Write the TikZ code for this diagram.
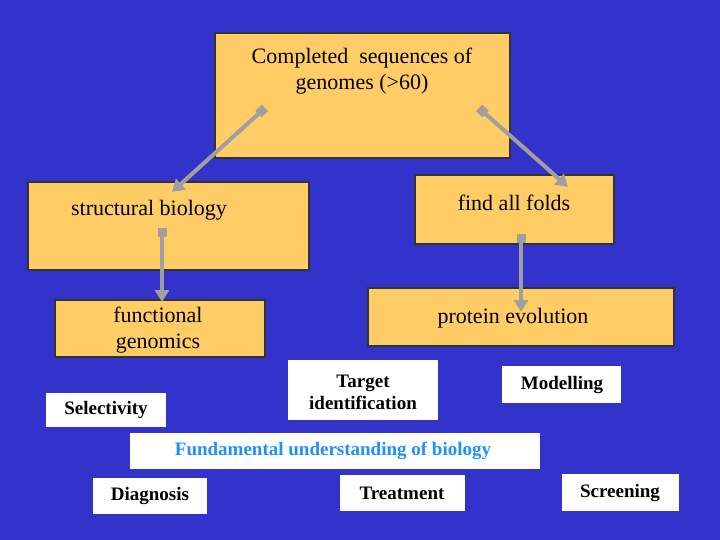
\documentclass[tikz,border=0pt]{standalone}
\usepackage{fontspec}
\setmainfont{Liberation Serif}
\usetikzlibrary{arrows.meta}
\definecolor{slideblue}{RGB}{51,51,204}
\definecolor{boxorange}{RGB}{255,204,102}
\definecolor{txtblue}{RGB}{30,144,255}
\tikzset{
  obox/.style={draw=black!80,line width=1.2pt,fill=boxorange},
  wbox/.style={fill=white,inner sep=0pt},
  big/.style={font=\fontsize{22}{26}\selectfont},
  small/.style={font=\bfseries\fontsize{19}{22}\selectfont,align=center},
  link/.style={draw=gray!75,line width=4pt,{Square[length=9pt,width=9pt]}-{Triangle[length=12pt,width=14pt]}}
}
\begin{document}
\begin{tikzpicture}[x=1pt,y=-1pt]
	\fill[slideblue] (0,0) rectangle (720,540);
	\useasboundingbox (0,0) rectangle (720,540);

	% orange boxes
	\draw[obox] (215,33) rectangle (510,158);
	\node[big,align=center] (genomes) at (362,71) {Completed\ \ sequences of\\genomes (>60)};
	\draw[obox] (28,182) rectangle (309,270);
	\node[big] (struct) at (149,210) {structural biology};
	\draw[obox] (415,175) rectangle (614,244);
	\node[big] (folds) at (514,203) {find all folds};
	\draw[obox] (55,300) rectangle (265,357);
	\node[big,align=center] (func) at (158,330) {functional\\genomics};
	\draw[obox] (368,288) rectangle (674,346);
	\node[big] (evol) at (513,318) {protein evolution};

	% white boxes
	\fill[white] (46,393) rectangle (166,427);
	\node[small] (select) at (106,410) {Selectivity};
	\fill[white] (288,360) rectangle (438,420);
	\node[small] (target) at (363,392) {Target\\identification};
	\fill[white] (502,366) rectangle (621,403);
	\node[small] (model) at (562,385) {Modelling};
	\fill[white] (130,433) rectangle (540,469);
	\node[small,text=txtblue] (fund) at (333,451) {Fundamental understanding of biology};
	\fill[white] (93,478) rectangle (207,514);
	\node[small] (diag) at (150,496) {Diagnosis};
	\fill[white] (340,475) rectangle (465,511);
	\node[small] (treat) at (402,493) {Treatment};
	\fill[white] (562,474) rectangle (679,511);
	\node[small] (screen) at (620,493) {Screening};

	% arrows
	\coordinate (a1) at (265,108); \coordinate (b1) at (172,192);
	\coordinate (a2) at (479,108); \coordinate (b2) at (568,187);
	\coordinate (a3) at (162,228); \coordinate (b3) at (162,302);
	\coordinate (a4) at (521,234); \coordinate (b4) at (521,312);
	\draw[link] (a1) -- (b1);
	\draw[link] (a2) -- (b2);
	\draw[link] (a3) -- (b3);
	\draw[link] (a4) -- (b4);
\end{tikzpicture}
\end{document}
